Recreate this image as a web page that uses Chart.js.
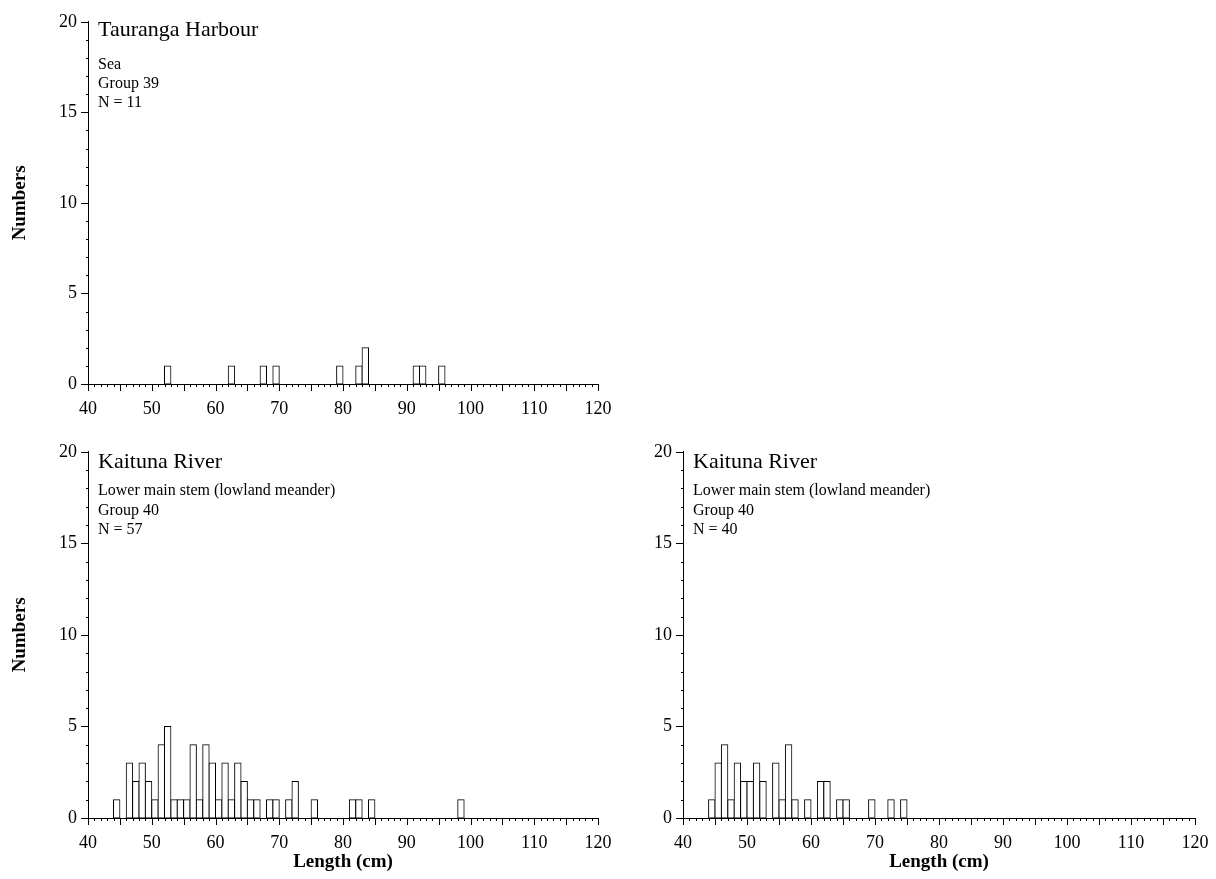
<!DOCTYPE html>
<html>
<head>
<meta charset="utf-8">
<script src="https://cdn.jsdelivr.net/npm/chart.js@4.4.0/dist/chart.umd.min.js"></script>
<style>
  body { margin: 0; background: #fff; width: 1216px; height: 879px; position: relative; overflow: hidden;
         font-family: "Liberation Serif", "Times New Roman", serif; color: #000; }
  .panel { position: absolute; }
  .note { position: absolute; white-space: nowrap; font-size: 16px; line-height: 16px; }
  .note.title { font-size: 22px; line-height: 22px; }
</style>
</head>
<body>
<div class="panel" style="left:0;top:0;width:620px;height:430px"><canvas id="tauranga" width="620" height="430"></canvas></div>
<div class="panel" style="left:0;top:430px;width:620px;height:449px"><canvas id="kaituna57" width="620" height="449"></canvas></div>
<div class="panel" style="left:620px;top:430px;width:596px;height:449px"><canvas id="kaituna40" width="596" height="449"></canvas></div>

<div class="note title" style="left:98px;top:18px">Tauranga Harbour</div>
<div class="note" style="left:98px;top:56px">Sea</div>
<div class="note" style="left:98px;top:75px">Group 39</div>
<div class="note" style="left:98px;top:94px">N = 11</div>

<div class="note title" style="left:98px;top:450px">Kaituna River</div>
<div class="note" style="left:98px;top:482px">Lower main stem (lowland meander)</div>
<div class="note" style="left:98px;top:502px">Group 40</div>
<div class="note" style="left:98px;top:521px">N = 57</div>

<div class="note title" style="left:693px;top:450px">Kaituna River</div>
<div class="note" style="left:693px;top:482px">Lower main stem (lowland meander)</div>
<div class="note" style="left:693px;top:502px">Group 40</div>
<div class="note" style="left:693px;top:521px">N = 40</div>

<script>
// length classes (cm, lower edge of 1 cm bin) and fish counts
const taurangaLengths = [52, 62, 67, 69, 79, 82, 83, 91, 92, 95];
const taurangaCounts  = [1, 1, 1, 1, 1, 1, 2, 1, 1, 1];

const kaituna57Lengths = [44, 46, 47, 48, 49, 50, 51, 52, 53, 54, 55, 56, 57, 58, 59, 60, 61, 62, 63, 64, 65, 66, 68, 69, 71, 72, 75, 81, 82, 84, 98];
const kaituna57Counts  = [1, 3, 2, 3, 2, 1, 4, 5, 1, 1, 1, 4, 1, 4, 3, 1, 3, 1, 3, 2, 1, 1, 1, 1, 1, 2, 1, 1, 1, 1, 1];

const kaituna40Lengths = [44, 45, 46, 47, 48, 49, 50, 51, 52, 54, 55, 56, 57, 59, 61, 62, 64, 65, 69, 72, 74];
const kaituna40Counts  = [1, 3, 4, 1, 3, 2, 2, 3, 2, 3, 1, 4, 1, 1, 2, 2, 1, 1, 1, 1, 1];

const xTicks = [40, 50, 60, 70, 80, 90, 100, 110, 120];
const yTicks = [0, 5, 10, 15, 20];

const serif = '"Liberation Serif", "Times New Roman", serif';

// small ticks every 1 unit, longer every 5
const minorTicks = {
  id: 'minorTicks',
  afterDraw(chart) {
    const { ctx, scales: { x, y } } = chart;
    ctx.save();
    ctx.strokeStyle = '#000';
    ctx.lineWidth = 1;
    ctx.beginPath();
    for (let v = x.min; v <= x.max; v++) {
      const px = Math.round(x.getPixelForValue(v)) + 0.5;
      const len = v % 5 === 0 ? 7 : 3;
      ctx.moveTo(px, y.bottom);
      ctx.lineTo(px, y.bottom + len);
    }
    for (let v = y.min; v <= y.max; v++) {
      const py = Math.round(y.getPixelForValue(v)) + 0.5;
      const len = v % 5 === 0 ? 7 : 2;
      ctx.moveTo(x.left, py);
      ctx.lineTo(x.left - len, py);
    }
    ctx.stroke();
    ctx.restore();
  }
};

function makeChart(id, lengths, counts, o) {
  return new Chart(document.getElementById(id), {
    type: 'bar',
    data: {
      datasets: [{
        data: lengths.map((l, i) => ({ x: l + 0.5, y: counts[i] })),
        backgroundColor: '#fff',
        borderColor: '#000',
        borderWidth: 1,
        borderSkipped: false,
        inflateAmount: 0.5,
        barPercentage: 1,
        categoryPercentage: 1
      }]
    },
    options: {
      responsive: false,
      animation: false,
      layout: { padding: { left: 0, right: o.right, top: o.top, bottom: 0 } },
      plugins: { legend: { display: false }, tooltip: { enabled: false } },
      scales: {
        x: {
          type: 'linear', min: 40, max: 120, offset: false,
          grid: { display: false },
          border: { display: true, color: '#000', width: 1 },
          afterBuildTicks: s => { s.ticks = xTicks.map(v => ({ value: v })); },
          ticks: { padding: 6, color: '#000', font: { family: serif, size: 18 }, maxRotation: 0, autoSkip: false },
          title: { display: o.xTitle, text: 'Length (cm)', color: '#000',
                   font: { family: serif, size: 19, weight: 'bold' }, padding: { top: 0, bottom: 6 } },
          afterFit: s => { s.height = o.xHeight; }
        },
        y: {
          min: 0, max: 20,
          grid: { display: false, drawTicks: false },
          border: { display: true, color: '#000', width: 1 },
          afterBuildTicks: s => { s.ticks = yTicks.map(v => ({ value: v })); },
          ticks: { padding: 11, color: '#000', font: { family: serif, size: 18 } },
          title: { display: o.yTitle, text: 'Numbers', color: '#000',
                   font: { family: serif, size: 19, weight: 'bold' }, padding: { top: 9, bottom: 0 } },
          afterFit: s => { s.width = o.yWidth; }
        }
      }
    },
    plugins: [minorTicks]
  });
}

makeChart('tauranga', taurangaLengths, taurangaCounts,
  { top: 19, right: 22, xHeight: 46, yWidth: 88, xTitle: false, yTitle: true });
makeChart('kaituna57', kaituna57Lengths, kaituna57Counts,
  { top: 21, right: 22, xHeight: 61, yWidth: 88, xTitle: true, yTitle: true });
makeChart('kaituna40', kaituna40Lengths, kaituna40Counts,
  { top: 21, right: 21, xHeight: 61, yWidth: 63, xTitle: true, yTitle: false });
</script>
</body>
</html>
